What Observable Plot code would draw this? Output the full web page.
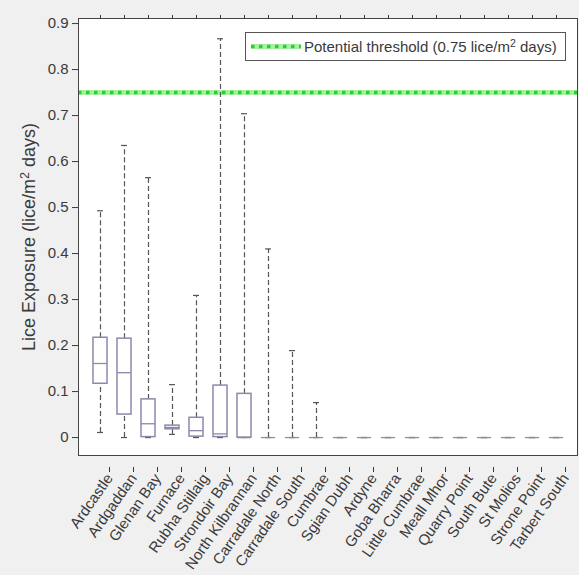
<!DOCTYPE html>
<html>
<head>
<meta charset="utf-8">
<script src="https://cdn.jsdelivr.net/npm/d3@7"></script>
<script src="https://cdn.jsdelivr.net/npm/@observablehq/plot@0.6"></script>
<style>
  html, body { margin: 0; padding: 0; background: #f0f0f0; }
  #chart svg { display: block; }
</style>
</head>
<body>
<div id="chart"></div>
<script>
const sites = ["Ardcastle","Ardgaddan","Glenan Bay","Furnace","Rubha Stillaig","Strondoir Bay","North Kilbrannan","Carradale North","Carradale South","Cumbrae","Sgian Dubh","Ardyne","Goba Bharra","Little Cumbrae","Meall Mhor","Quarry Point","South Bute","St Molios","Strone Point","Tarbert South"];
const whiskerLow  = [0.011,0,0,0.007,0,0,0,0,0,0,0,0,0,0,0,0,0,0,0,0];
const q1          = [0.117,0.050,0.001,0.018,0.002,0.001,0,0,0,0,0,0,0,0,0,0,0,0,0,0];
const median      = [0.161,0.141,0.030,0.022,0.015,0.008,0,0,0,0,0,0,0,0,0,0,0,0,0,0];
const q3          = [0.217,0.215,0.083,0.026,0.043,0.113,0.095,0,0,0,0,0,0,0,0,0,0,0,0,0];
const whiskerHigh = [0.493,0.635,0.565,0.115,0.309,0.867,0.704,0.410,0.189,0.076,0,0,0,0,0,0,0,0,0,0];
const threshold = 0.75;
const yTicks = [0,0.1,0.2,0.3,0.4,0.5,0.6,0.7,0.8,0.9];
const yLabel = ["Lice Exposure (lice/m", "2", " days)"];
const legendText = ["Potential threshold (0.75 lice/m", "2", " days)"];

const rows = sites.map((s, i) => ({site: s, lo: whiskerLow[i], q1: q1[i], med: median[i], q3: q3[i], hi: whiskerHigh[i]}));

const boxColor = "#8a8aaa";
const whiskerColor = "#555";
const font = "Liberation Sans, Arial, sans-serif";

const plot = Plot.plot({
  width: 579,
  height: 575,
  marginLeft: 78,
  marginRight: 2,
  marginTop: 18,
  marginBottom: 120,
  style: {background: "#f0f0f0", fontFamily: font, color: "#3a3a3a", overflow: "hidden"},
  x: {domain: sites, padding: 0},
  y: {domain: [-0.039, 0.911]},
  marks: [
    Plot.frame({fill: "white", stroke: "none"}),
    Plot.ruleY([threshold], {stroke: "#a6f0a6", strokeWidth: 5}),
    Plot.ruleY([threshold], {stroke: "#2bd12b", strokeWidth: 3.5, strokeDasharray: "3.5,4.5"}),
    Plot.ruleX(rows, {x: "site", y1: "q3", y2: "hi", stroke: whiskerColor, strokeDasharray: "5,3", strokeWidth: 1.2}),
    Plot.ruleX(rows, {x: "site", y1: "lo", y2: "q1", stroke: whiskerColor, strokeDasharray: "5,3", strokeWidth: 1.2}),
    Plot.tickY(rows, {x: "site", y: "hi", stroke: whiskerColor, insetLeft: 9, insetRight: 9, strokeWidth: 1.2}),
    Plot.tickY(rows, {x: "site", y: "lo", stroke: whiskerColor, insetLeft: 9, insetRight: 9, strokeWidth: 1.2}),
    Plot.barY(rows, {x: "site", y1: "q1", y2: "q3", fill: "none", stroke: boxColor, strokeWidth: 1.5, insetLeft: 5, insetRight: 5}),
    Plot.tickY(rows, {x: "site", y: "med", stroke: boxColor, strokeWidth: 1.3, insetLeft: 5, insetRight: 5}),
    Plot.frame({stroke: "#444", strokeWidth: 1}),
    Plot.axisY({ticks: yTicks, tickSize: 6, tickPadding: 4, fontSize: 15, tickFormat: d => d === 0 ? "0" : d3.format(".1f")(d), label: null}),
    Plot.axisY({ticks: [], label: yLabel.join(""), labelAnchor: "center", labelArrow: "none", labelOffset: 56, fontSize: 18}),
    Plot.axisX({tickSize: 5, tickPadding: 3, tickRotate: -55, fontSize: 15, dx: 9, dy: 12, label: null}),
    Plot.axisX({anchor: "top", tickSize: 4, tickFormat: () => "", label: null})
  ]
});

document.getElementById("chart").appendChild(plot);

function superscript(sel, parts) {
  sel.text(null);
  sel.append("tspan").text(parts[0]);
  sel.append("tspan").attr("font-size", "0.7em").attr("dy", "-0.5em").text(parts[1]);
  sel.append("tspan").attr("dy", "0.35em").text(parts[2]);
}

const svg = d3.select(plot);
// y-axis label with superscript
svg.selectAll("text").filter(function() { return this.textContent === yLabel.join(""); })
  .each(function() { superscript(d3.select(this), yLabel); });

// Legend (inside the plot area, top-right)
const lg = svg.append("g").attr("font-family", font).attr("text-anchor", "start");
lg.append("rect").attr("x", 245.5).attr("y", 32.5).attr("width", 320).attr("height", 28)
  .attr("fill", "white").attr("stroke", "#555").attr("stroke-width", 1);
lg.append("line").attr("x1", 251).attr("x2", 301).attr("y1", 46.5).attr("y2", 46.5)
  .attr("stroke", "#a6f0a6").attr("stroke-width", 5);
lg.append("line").attr("x1", 251).attr("x2", 301).attr("y1", 46.5).attr("y2", 46.5)
  .attr("stroke", "#2bd12b").attr("stroke-width", 3.5).attr("stroke-dasharray", "3.5,4.5");
const lt = lg.append("text").attr("x", 304).attr("y", 52).attr("font-size", 15).attr("fill", "#3a3a3a").attr("text-anchor", "start");
superscript(lt, legendText);
</script>
</body>
</html>
